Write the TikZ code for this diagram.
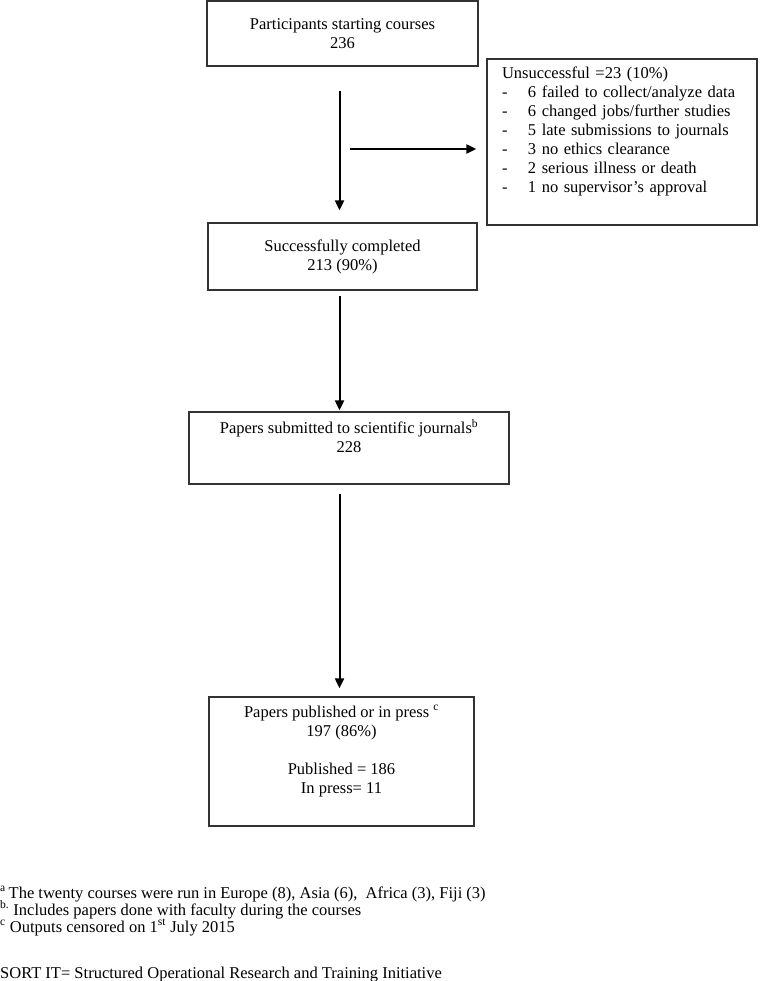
\documentclass[tikz,border=0pt]{standalone}
\usepackage{fontspec}
\setmainfont{Liberation Serif}
\usetikzlibrary{arrows.meta}

\begin{document}
\begin{tikzpicture}[x=1pt, y=-1pt,
        box/.style = {draw=black!80, line width=1.3pt, align=center, inner sep=0pt,
                      font=\fontsize{16.5}{19}\selectfont},
        arr/.style = {line width=2pt, -{Triangle[length=10pt,width=9pt]}},
        note/.style = {anchor=base west, inner sep=0pt, font=\fontsize{16.5}{19}\selectfont}]

        \useasboundingbox (0,0) rectangle (760,981);

        % Course start
        \node[box,minimum width=271pt,minimum height=65pt] (start) at (342.5,33.5)
            {Participants starting courses\\236};

        % Unsuccessful
        \node[box,align=left,text width=240pt,inner xsep=15pt,minimum width=270pt,minimum height=166pt] (unsucc) at (622,142)
            {Unsuccessful =23 (10\%)\\
             \makebox[26pt][l]{-}6 failed to collect/analyze data\\
             \makebox[26pt][l]{-}6 changed jobs/further studies\\
             \makebox[26pt][l]{-}5 late submissions to journals\\
             \makebox[26pt][l]{-}3 no ethics clearance\\
             \makebox[26pt][l]{-}2 serious illness or death\\
             \makebox[26pt][l]{-}1 no supervisor’s approval\\
             \strut};

        % Completed
        \node[box,minimum width=269pt,minimum height=67pt] (succ) at (342.5,256.5)
            {Successfully completed\\213 (90\%)};

        % Submitted
        \node[box,minimum width=320pt,minimum height=72pt] (subm) at (349,448)
            {Papers submitted to scientific journals\textsuperscript{b}\\228\\\strut};

        % Published
        \node[box,minimum width=265pt,minimum height=129pt] (publ) at (341.5,761.5)
            {Papers published or in press \textsuperscript{c}\\197 (86\%)\\\strut\\Published = 186\\In press= 11\\\strut};

        % Arrows
        \coordinate (spine) at (339.5,0);
        \coordinate (branch) at (350,149);
        \draw[arr, shorten <=24pt, shorten >=12pt] (start.south -| spine) -- (succ.north -| spine);
        \draw[arr, shorten >=10pt] (branch) -- (branch -| unsucc.west);
        \draw[arr, shorten <=5pt, shorten >=1pt] (succ.south -| spine) -- (subm.north -| spine);
        \draw[arr, shorten <=9pt, shorten >=8pt] (subm.south -| spine) -- (publ.north -| spine);

        % Footnotes
        \node[note] (fna) at (0,898) {\textsuperscript{a }The twenty courses were run in Europe (8), Asia (6),~ Africa (3), Fiji (3)};
        \node[note] (fnb) at (0,915) {\textsuperscript{b.} Includes papers done with faculty during the courses};
        \node[note] (fnc) at (0,932) {\textsuperscript{c} Outputs censored on 1\textsuperscript{st} July 2015};
        \node[note] (sort) at (0,978) {SORT IT= Structured Operational Research and Training Initiative};

    \end{tikzpicture}
\end{document}
